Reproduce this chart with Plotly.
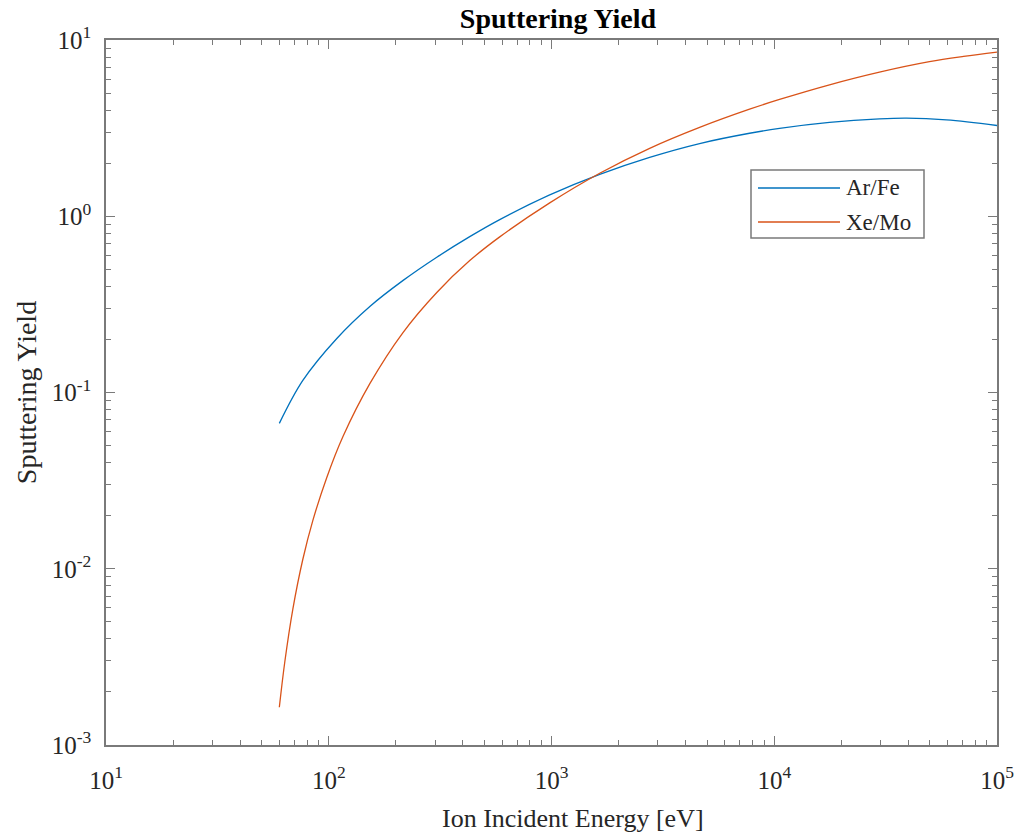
import plotly.graph_objects as go

# Values (energy in eV, yield in atoms/ion)
ar_fe_energy = [60, 76.5, 108.7, 152.9, 215, 305.5, 429.5, 585.6, 981.7, 1646, 2758,
                4623, 7749, 10563, 17704, 29677, 39228, 59293, 100000]
ar_fe_yield = [0.0668, 0.1171, 0.2026, 0.3077, 0.4312, 0.5855, 0.7661, 0.9576, 1.322,
               1.729, 2.159, 2.586, 2.958, 3.152, 3.406, 3.568, 3.603, 3.522, 3.273]

xe_mo_energy = [60, 63.5, 69.0, 76.5, 84.8, 98.0, 115.7, 152.9, 215, 305.5, 429.5, 585.6, 981.7,
                1646, 2758, 4623, 7749, 10563, 17704, 29677, 49736, 70800, 100000]
xe_mo_yield = [0.001637, 0.002967, 0.005904, 0.01132, 0.01875, 0.03295, 0.05605, 0.1122, 0.2182,
               0.3696, 0.5602, 0.7637, 1.191, 1.754, 2.429, 3.193, 4.051, 4.599, 5.568, 6.57,
               7.531, 8.07, 8.54]

series_names = ["Ar/Fe", "Xe/Mo"]
series_colors = ["#0072BD", "#D95319"]

x_tick_vals = [10, 100, 1000, 10000, 100000]
x_tick_text = ["10<sup>1</sup>", "10<sup>2</sup>", "10<sup>3</sup>", "10<sup>4</sup>", "10<sup>5</sup>"]
y_tick_vals = [0.001, 0.01, 0.1, 1, 10]
y_tick_text = ["10<sup>-3</sup>", "10<sup>-2</sup>", "10<sup>-1</sup>", "10<sup>0</sup>", "10<sup>1</sup>"]

FONT = "Liberation Serif, Times New Roman, serif"
AXIS_COLOR = "#7a7a7a"
TEXT_COLOR = "#262626"

# plot-area geometry in pixels
W, H = 1021, 835
L, R, T, B = 106, 997, 40, 745
PW, PH = R - L, B - T


def px_x(px):
    return (px - L) / PW


def px_y(py):
    return (B - py) / PH


x_minor = [m * 10 ** d for d in range(1, 5) for m in range(2, 10)]
y_minor = [m * 10 ** d for d in range(-3, 1) for m in range(2, 10)]

fig = go.Figure()
for name, xs, ys, col in zip(series_names, [ar_fe_energy, xe_mo_energy],
                             [ar_fe_yield, xe_mo_yield], series_colors):
    fig.add_trace(go.Scatter(x=xs, y=ys, mode="lines", name=name, showlegend=False,
                             line=dict(color=col, width=1.3, shape="spline", smoothing=1.0)))

axis_common = dict(
    showline=True, linecolor=AXIS_COLOR, linewidth=1.5, mirror="allticks",
    ticks="inside", ticklen=9, tickwidth=1.2, tickcolor=AXIS_COLOR,
    showgrid=False, zeroline=False, automargin=False,
    tickfont=dict(family=FONT, size=25, color=TEXT_COLOR),
)

fig.update_xaxes(
    type="log", range=[1, 5], tickvals=x_tick_vals, ticktext=x_tick_text,
    ticklabelstandoff=12,
    minor=dict(tickvals=x_minor, ticks="inside", ticklen=5, tickwidth=1, tickcolor=AXIS_COLOR),
    **axis_common,
)
fig.update_yaxes(
    type="log", range=[-3, 1], tickvals=y_tick_vals, ticktext=y_tick_text,
    title=dict(text="Sputtering Yield", font=dict(family=FONT, size=28, color=TEXT_COLOR),
               standoff=7),
    ticklabelstandoff=8,
    minor=dict(tickvals=y_minor, ticks="inside", ticklen=5, tickwidth=1, tickcolor=AXIS_COLOR),
    **axis_common,
)

# x-axis title
fig.add_annotation(text="Ion Incident Energy [eV]", xref="paper", yref="paper",
                   x=px_x(573), y=px_y(818), xanchor="center", yanchor="middle",
                   showarrow=False, font=dict(family=FONT, size=26, color=TEXT_COLOR))

# legend box (drawn to match the reference's long line samples)
fig.add_shape(type="rect", xref="paper", yref="paper",
              x0=px_x(751), x1=px_x(924), y0=px_y(238), y1=px_y(170),
              line=dict(color=AXIS_COLOR, width=1.5), fillcolor="white", layer="above")
for i, (name, col) in enumerate(zip(series_names, series_colors)):
    row_y = 188 + 34 * i
    fig.add_shape(type="line", xref="paper", yref="paper",
                  x0=px_x(758), x1=px_x(840), y0=px_y(row_y), y1=px_y(row_y),
                  line=dict(color=col, width=1.3), layer="above")
    fig.add_annotation(text=name, xref="paper", yref="paper",
                       x=px_x(844), y=px_y(row_y), xanchor="left", yanchor="middle",
                       showarrow=False, font=dict(family=FONT, size=23, color=TEXT_COLOR))

fig.update_layout(
    width=W, height=H,
    margin=dict(l=L, r=W - R, t=T, b=H - B, autoexpand=False),
    paper_bgcolor="white", plot_bgcolor="white",
    title=dict(text="<b>Sputtering Yield</b>", x=558 / W, xanchor="center", xref="container",
               y=1 - 18 / H, yanchor="middle", yref="container",
               font=dict(family=FONT, size=28, color="black")),
    showlegend=False,
)

fig.write_html("out.html", config={"displayModeBar": False},
               post_script="document.body.style.margin='0';")
